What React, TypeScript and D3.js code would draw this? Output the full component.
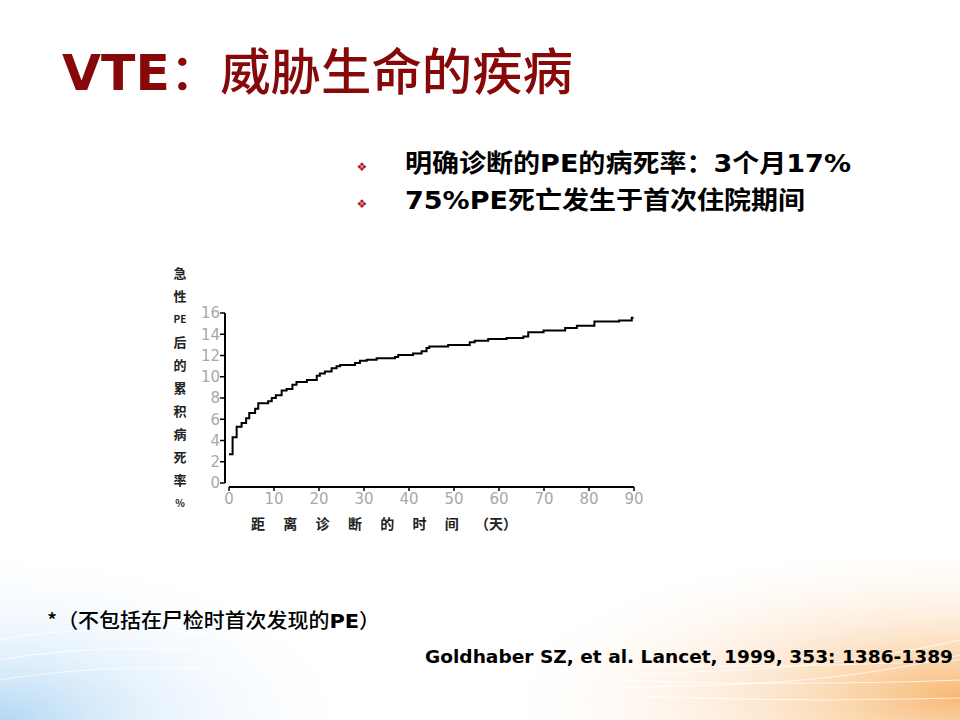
import React from "react";
import * as d3 from "d3";

const stepDays = [0, 0.8, 1.7, 2.8, 3.8, 4.5, 5.8, 6.5, 8.7, 9.5, 10.4, 11.7, 12.8, 14.1, 15, 17.3, 19.5, 20.2, 21.3, 22.8, 23.9, 24.7, 28, 29.1, 30.6, 32.8, 36.9, 37.6, 40.9, 42.8, 43.9, 44.5, 48.7, 53.5, 54.6, 57.6, 61.7, 65.4, 66.5, 69.9, 74.7, 77.3, 81.2, 86.7, 89.5, 89.9];
const mortality = [2.7, 4.3, 5.3, 5.65, 6.1, 6.6, 7.0, 7.5, 7.7, 8.0, 8.25, 8.7, 8.85, 9.25, 9.5, 9.7, 10.1, 10.3, 10.5, 10.8, 11.0, 11.1, 11.3, 11.5, 11.6, 11.75, 11.85, 12.05, 12.2, 12.4, 12.7, 12.85, 13.0, 13.25, 13.4, 13.55, 13.65, 13.8, 14.2, 14.35, 14.6, 14.8, 15.2, 15.3, 15.55, 15.55];
const xTicks = [0, 10, 20, 30, 40, 50, 60, 70, 80, 90];
const yTicks = [0, 2, 4, 6, 8, 10, 12, 14, 16];
const yTitleChars = ["急", "性", "PE", "后", "的", "累", "积", "病", "死", "率", "%"];
const xTitleChars = ["距", "离", "诊", "断", "的", "时", "间", "（天）"];
const title = { latin: "VTE", cjk: "：威胁生命的疾病" };
const bullets = [
  [
    { t: "明确诊断的", latin: false },
    { t: "PE", latin: true },
    { t: "的病死率：", latin: false },
    { t: "3", latin: true },
    { t: "个月", latin: false },
    { t: "17%", latin: true },
  ],
  [
    { t: "75%PE", latin: true },
    { t: "死亡发生于首次住院期间", latin: false },
  ],
];
const bulletWidths = [446, 400];
const footnote = [
  { t: "*（不包括在尸检时首次发现的", latin: false },
  { t: "PE", latin: true },
  { t: "）", latin: false },
];
const citation = "Goldhaber SZ, et al. Lancet, 1999, 353: 1386-1389";

const CJK = "'Noto Sans CJK SC', sans-serif";
const LAT = "'DejaVu Sans', 'Noto Sans CJK SC', sans-serif";

export default function App() {
  const x = d3.scaleLinear().domain([0, 90]).range([229, 634]);
  const y = d3.scaleLinear().domain([0, 16]).range([483, 313]);
  const pts: [number, number][] = stepDays.map((d, i) => [d, mortality[i]]);
  const line = d3
    .line<[number, number]>()
    .x((d) => x(d[0]))
    .y((d) => y(d[1]))
    .curve(d3.curveStepAfter);

  const yAxisX = 225;
  const xAxisY = 487;

  return (
    <svg
      width={960}
      height={720}
      viewBox="0 0 960 720"
      style={{ position: "absolute", left: 0, top: 0, background: "#fff" }}
    >
      <defs>
        <radialGradient id="blueG" cx="0" cy="1" r="1" gradientUnits="objectBoundingBox">
          <stop offset="0" stopColor="#a9d3f2" stopOpacity="0.9" />
          <stop offset="0.45" stopColor="#d6eafa" stopOpacity="0.5" />
          <stop offset="1" stopColor="#ffffff" stopOpacity="0" />
        </radialGradient>
        <radialGradient id="orangeG" cx="1" cy="0.85" r="1" gradientUnits="objectBoundingBox">
          <stop offset="0" stopColor="#f7b46a" stopOpacity="0.95" />
          <stop offset="0.35" stopColor="#fbd6ad" stopOpacity="0.7" />
          <stop offset="1" stopColor="#ffffff" stopOpacity="0" />
        </radialGradient>
      </defs>
      <rect x={0} y={0} width={960} height={720} fill="#fff" />
      <rect x={0} y={540} width={380} height={180} fill="url(#blueG)" />
      <rect x={480} y={560} width={480} height={160} fill="url(#orangeG)" />
      <g fill="none" stroke="#ffffff" strokeOpacity={0.7} strokeWidth={1.2}>
        <path d="M0,640 C200,600 400,690 960,660" />
        <path d="M0,660 C220,620 420,700 960,680" />
        <path d="M0,680 C240,640 440,712 960,698" />
        <path d="M300,700 C500,650 700,700 960,640" />
        <path d="M320,712 C520,665 720,712 960,655" />
      </g>

      {/* Title */}
      <text x={62} y={90} fill="#870808" fontSize={50} textLength={511} lengthAdjust="spacingAndGlyphs">
        <tspan fontFamily={LAT} fontWeight={700}>{title.latin}</tspan>
        <tspan fontFamily={CJK} fontWeight={500}>{title.cjk}</tspan>
      </text>

      {/* Bullets */}
      {bullets.map((segs, i) => (
        <g key={i}>
          <text x={362} y={171 + i * 37} fill="#b01818" fontSize={12} textAnchor="middle" fontFamily="'DejaVu Sans'">❖</text>
          <text x={405} y={172 + i * 37} fill="#000" fontSize={25} fontWeight={700} textLength={bulletWidths[i]} lengthAdjust="spacingAndGlyphs">
            {segs.map((s, j) => (
              <tspan key={j} fontFamily={s.latin ? LAT : CJK}>{s.t}</tspan>
            ))}
          </text>
        </g>
      ))}

      {/* y axis */}
      <line x1={yAxisX} x2={yAxisX} y1={y(16)} y2={y(0)} stroke="#000" strokeWidth={2} />
      {yTicks.map((t) => (
        <g key={t}>
          <line x1={yAxisX - 5} x2={yAxisX} y1={y(t)} y2={y(t)} stroke="#000" strokeWidth={1.5} />
          <text x={yAxisX - 5} y={y(t)} dy="0.35em" textAnchor="end" fontSize={15} fill="#a8a8a8" fontFamily="'DejaVu Sans'">{t}</text>
        </g>
      ))}
      {/* x axis */}
      <line x1={x(0)} x2={x(90)} y1={xAxisY} y2={xAxisY} stroke="#000" strokeWidth={2} />
      {xTicks.map((t) => (
        <g key={t}>
          <line x1={x(t)} x2={x(t)} y1={xAxisY} y2={xAxisY + 4} stroke="#000" strokeWidth={1.5} />
          <text x={x(t)} y={xAxisY + 12} dy="0.35em" textAnchor="middle" fontSize={15} fill="#a8a8a8" fontFamily="'DejaVu Sans'">{t}</text>
        </g>
      ))}
      {/* curve */}
      <path d={line(pts) || ""} fill="none" stroke="#000" strokeWidth={2} />

      {/* y title */}
      {yTitleChars.map((c, i) => (
        <text key={i} x={180} y={273 + i * 23} dy="0.35em" textAnchor="middle" fontSize={c.length > 1 || c === "%" ? 10 : 13} fontWeight={700} fill="#222" fontFamily={CJK}>{c}</text>
      ))}
      {/* x title */}
      {xTitleChars.map((c, i) => (
        <text key={i} x={258 + i * 32.3 + (c.length > 1 ? 12 : 0)} y={524} dy="0.35em" textAnchor="middle" fontSize={14} fontWeight={700} fill="#222" fontFamily={CJK}>{c}</text>
      ))}

      {/* footnote */}
      <text x={47} y={628} fontSize={20} fill="#000" textLength={333} lengthAdjust="spacingAndGlyphs">
        {footnote.map((s, j) => (
          <tspan key={j} fontFamily={s.latin ? LAT : CJK} fontWeight={s.latin ? 700 : 500}>{s.t}</tspan>
        ))}
      </text>
      {/* citation */}
      <text x={425} y={663} fontSize={17} fontWeight={700} fill="#000" fontFamily="'DejaVu Sans Condensed', 'DejaVu Sans'" textLength={528} lengthAdjust="spacingAndGlyphs">{citation}</text>
    </svg>
  );
}
